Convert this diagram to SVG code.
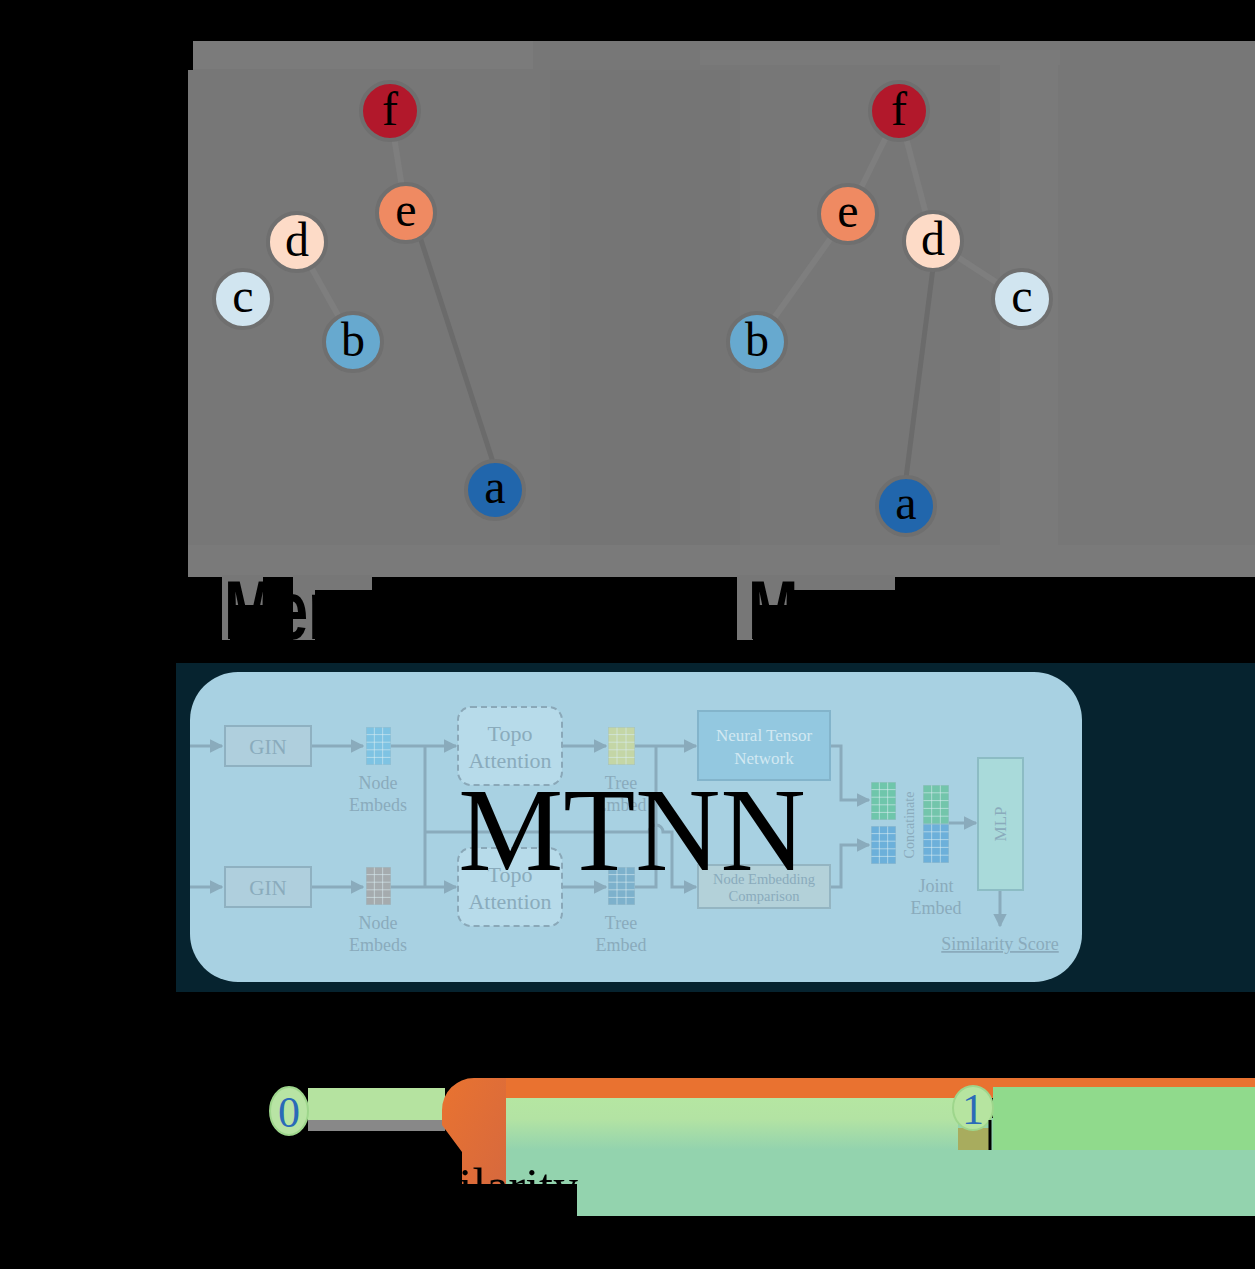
<svg xmlns="http://www.w3.org/2000/svg" width="1255" height="1269" viewBox="0 0 1255 1269">
<defs>
<style>
.nd{stroke:#6f6f6f;stroke-width:4}
.lb{font-family:"Liberation Serif",serif;font-size:48px;fill:#000;text-anchor:middle}
.ge{stroke:#6b6b6b;stroke-width:5;fill:none;stroke-linecap:round}
.gf{stroke:#7e7e7e;stroke-width:6;fill:none}
.pt{font-family:"Liberation Serif",serif;fill:#8aabbc;text-anchor:middle}
.pl{font-family:"Liberation Serif",serif;fill:#d2e8f2;text-anchor:middle}
.ln{stroke:#8aabbc;stroke-width:3;fill:none}
.box{stroke:#8fb1c1;stroke-width:2}
</style>
<marker id="arr" viewBox="0 0 10 10" refX="9" refY="5" markerWidth="4.5" markerHeight="4.5" orient="auto" markerUnits="strokeWidth">
<path d="M0,0 L10,5 L0,10 Z" fill="#8aabbc"/>
</marker>
<symbol id="mat" viewBox="0 0 30 50" preserveAspectRatio="none">
<rect x="0" y="0" width="30" height="50"/>
<path d="M10,0V50M20,0V50M0,10H30M0,20H30M0,30H30M0,40H30" stroke="#d9ecf2" stroke-opacity="0.6" stroke-width="1" vector-effect="non-scaling-stroke"/>
<rect x="0" y="0" width="30" height="50" fill="none" stroke="#9dbfcc" stroke-width="1" vector-effect="non-scaling-stroke"/>
</symbol>
<linearGradient id="lg" x1="0" y1="0" x2="0" y2="1">
<stop offset="0" stop-color="#b5e6a2"/>
<stop offset="0.4" stop-color="#b3e3a3"/>
<stop offset="1" stop-color="#93d3ae"/>
</linearGradient>
<linearGradient id="og" x1="0" y1="0" x2="1" y2="1">
<stop offset="0" stop-color="#e97330"/>
<stop offset="1" stop-color="#d5683f"/>
</linearGradient>
</defs>
<rect width="1255" height="1269" fill="#000"/>

<g id="graph-background">
<path d="M193,41 H1255 V577 H188 V70 H193 Z" fill="#777"/>
<rect x="193" y="41" width="340" height="28" fill="#7b7b7b"/>
<rect x="700" y="50" width="360" height="15" fill="#7a7a7a"/>
<rect x="1000" y="65" width="58" height="480" fill="#7a7a7a"/>
<rect x="188" y="545" width="1067" height="32" fill="#7a7a7a"/>
<rect x="550" y="70" width="190" height="475" fill="#757575"/>
<rect x="222" y="575" width="41" height="30" fill="#777"/>
<rect x="222" y="575" width="8" height="65" fill="#777"/>
<rect x="293" y="575" width="22" height="65" fill="#777"/>
<rect x="295" y="575" width="77" height="15" fill="#777"/>
<rect x="737" y="575" width="56" height="30" fill="#777"/>
<rect x="737" y="575" width="16" height="65" fill="#777"/>
<rect x="793" y="575" width="102" height="15" fill="#777"/>
</g>

<g id="connectors">
<line class="gf" x1="390" y1="111" x2="406" y2="213" stroke="#737373"/>
<line class="gf" x1="297" y1="242" x2="353" y2="342" stroke="#707070"/>
<line class="ge" x1="421" y1="240" x2="493" y2="462"/>
<line class="gf" x1="899" y1="111" x2="848" y2="214"/>
<line class="gf" x1="848" y1="214" x2="757" y2="342"/>
<line class="gf" x1="899" y1="111" x2="933" y2="241" stroke="#7c7c7c"/>
<line class="gf" x1="933" y1="241" x2="1022" y2="299" stroke="#7c7c7c" stroke-width="4"/>
<line class="ge" x1="933" y1="268" x2="906" y2="478"/>
</g>

<g id="left-f"><circle class="nd" cx="390" cy="111" r="29" fill="#b2182b"/><text class="lb" x="390" y="125">f</text></g>
<g id="left-e"><circle class="nd" cx="406" cy="213" r="29" fill="#ef8a62"/><text class="lb" x="406" y="226">e</text></g>
<g id="left-d"><circle class="nd" cx="297" cy="242" r="29" fill="#fddbc7"/><text class="lb" x="297" y="256">d</text></g>
<g id="left-c"><circle class="nd" cx="243" cy="299" r="29" fill="#d1e5f0"/><text class="lb" x="243" y="312">c</text></g>
<g id="left-b"><circle class="nd" cx="353" cy="342" r="29" fill="#67a9cf"/><text class="lb" x="353" y="356">b</text></g>
<g id="left-a"><circle class="nd" cx="495" cy="490" r="29" fill="#2166ac"/><text class="lb" x="495" y="503">a</text></g>

<g id="right-f"><circle class="nd" cx="899" cy="111" r="29" fill="#b2182b"/><text class="lb" x="899" y="125">f</text></g>
<g id="right-e"><circle class="nd" cx="848" cy="214" r="29" fill="#ef8a62"/><text class="lb" x="848" y="227">e</text></g>
<g id="right-d"><circle class="nd" cx="933" cy="241" r="29" fill="#fddbc7"/><text class="lb" x="933" y="255">d</text></g>
<g id="right-c"><circle class="nd" cx="1022" cy="299" r="29" fill="#d1e5f0"/><text class="lb" x="1022" y="312">c</text></g>
<g id="right-b"><circle class="nd" cx="757" cy="342" r="29" fill="#67a9cf"/><text class="lb" x="757" y="356">b</text></g>
<g id="right-a"><circle class="nd" cx="906" cy="506" r="29" fill="#2166ac"/><text class="lb" x="906" y="519">a</text></g>

<g id="titles">
<text transform="translate(224,639) scale(0.72,1)" font-family="Liberation Sans, sans-serif" font-weight="bold" font-size="84" fill="#000">Mer</text>
<text transform="translate(748,639) scale(0.72,1)" font-family="Liberation Sans, sans-serif" font-weight="bold" font-size="84" fill="#000">Me</text>
</g>

<g id="mtnn-panel">
<rect x="176" y="663" width="1079" height="329" fill="#06232f"/>
<rect x="190" y="672" width="892" height="310" rx="48" fill="#a8d1e2"/>
</g>

<g id="panel-connectors">
<path class="ln" d="M190,746 H222" marker-end="url(#arr)"/>
<path class="ln" d="M311,746 H363" marker-end="url(#arr)"/>
<path class="ln" d="M391,746 H456" marker-end="url(#arr)"/>
<path class="ln" d="M425,746 V887"/>
<path class="ln" d="M425,832 H649 A7,7 0 0 1 663,832 H672 V887 H696" marker-end="url(#arr)"/>
<path class="ln" d="M562,746 H606" marker-end="url(#arr)"/>
<path class="ln" d="M635,746 H696" marker-end="url(#arr)"/>
<path class="ln" d="M635,887 H656 V746"/>
<path class="ln" d="M190,887 H222" marker-end="url(#arr)"/>
<path class="ln" d="M311,887 H363" marker-end="url(#arr)"/>
<path class="ln" d="M391,887 H456" marker-end="url(#arr)"/>
<path class="ln" d="M562,887 H606" marker-end="url(#arr)"/>
<path class="ln" d="M830,746 H841 V800 H869" marker-end="url(#arr)"/>
<path class="ln" d="M830,887 H841 V845 H869" marker-end="url(#arr)"/>
<path class="ln" d="M949,823 H976" marker-end="url(#arr)"/>
<path class="ln" d="M1000,890 V926" marker-end="url(#arr)"/>
</g>

<g id="gin1"><rect class="box" x="225" y="726" width="86" height="40" fill="#afcfdd"/><text class="pt" x="268" y="754" font-size="21">GIN</text></g>
<g id="gin2"><rect class="box" x="225" y="867" width="86" height="40" fill="#afcfdd"/><text class="pt" x="268" y="895" font-size="21">GIN</text></g>

<g id="node-embeds1"><use href="#mat" x="366" y="727" width="25" height="38" fill="#7ec3e3"/><text class="pt" font-size="18" x="378" y="789">Node</text><text class="pt" font-size="18" x="378" y="811">Embeds</text></g>
<g id="node-embeds2"><use href="#mat" x="366" y="867" width="25" height="38" fill="#a5abae"/><text class="pt" font-size="18" x="378" y="929">Node</text><text class="pt" font-size="18" x="378" y="951">Embeds</text></g>

<g id="topo1"><rect x="458" y="707" width="104" height="78" rx="13" fill="#b7dbea" stroke="#8aa8b8" stroke-width="2" stroke-dasharray="6,4"/><text class="pt" font-size="22" x="510" y="741">Topo</text><text class="pt" font-size="22" x="510" y="768">Attention</text></g>
<g id="topo2"><rect x="458" y="848" width="104" height="78" rx="13" fill="#b7dbea" stroke="#8aa8b8" stroke-width="2" stroke-dasharray="6,4"/><text class="pt" font-size="22" x="510" y="882">Topo</text><text class="pt" font-size="22" x="510" y="909">Attention</text></g>

<g id="tree-embed1"><use href="#mat" x="608" y="727" width="27" height="38" fill="#c4d6a6"/><text class="pt" font-size="18" x="621" y="789">Tree</text><text class="pt" font-size="18" x="621" y="811">Embed</text></g>
<g id="tree-embed2"><use href="#mat" x="608" y="867" width="27" height="38" fill="#7db1cc"/><text class="pt" font-size="18" x="621" y="929">Tree</text><text class="pt" font-size="18" x="621" y="951">Embed</text></g>

<g id="ntn"><rect x="698" y="711" width="132" height="69" fill="#93c8e0" stroke="#83b4cb" stroke-width="2"/><text class="pl" font-size="17" x="764" y="741">Neural Tensor</text><text class="pl" font-size="17" x="764" y="764">Network</text></g>
<g id="nec"><rect x="698" y="865" width="132" height="43" fill="#b3d1d9" stroke="#94b5c2" stroke-width="2"/><text class="pt" font-size="14.5" x="764" y="884">Node Embedding</text><text class="pt" font-size="14.5" x="764" y="901">Comparison</text></g>

<g id="concat"><use href="#mat" x="871" y="782" width="25" height="38" fill="#6fc6ab"/><use href="#mat" x="871" y="826" width="25" height="38" fill="#6cb0da"/><text class="pt" font-size="14" transform="translate(914,825) rotate(-90)">Concatinate</text></g>
<g id="joint-embed"><use href="#mat" x="923" y="785" width="26" height="39" fill="#73c5ab"/><use href="#mat" x="923" y="824" width="26" height="39" fill="#6db0da"/><text class="pt" font-size="18" x="936" y="892">Joint</text><text class="pt" font-size="18" x="936" y="914">Embed</text></g>
<g id="mlp"><rect x="978" y="758" width="45" height="132" fill="#a9dada" stroke="#8cbcc4" stroke-width="2"/><text class="pt" font-size="17" transform="translate(1006,824) rotate(-90)">MLP</text></g>
<g id="similarity-score"><text class="pt" font-size="18" x="1000" y="950" text-decoration="underline">Similarity Score</text></g>

<g id="mtnn-title"><text x="632" y="870" font-family="Liberation Serif, serif" font-size="118" text-anchor="middle" fill="#000">MTNN</text></g>

<g id="slider">
<rect x="506" y="1118" width="749" height="98" fill="#93d3ae"/>
<rect x="506" y="1098" width="452" height="52" fill="url(#lg)"/>
<polygon points="506,1078 1255,1078 1255,1087 993,1087 993,1098 506,1098" fill="#e97230"/>
<rect x="993" y="1087" width="262" height="63" fill="#90da8c"/>
<rect x="308" y="1088" width="137" height="32" fill="#b5e3a0"/>
<rect x="308" y="1120" width="137" height="11" fill="#888"/>
<path d="M506,1078 H474 A32,32 0 0 0 442,1110 V1125 L462,1152 V1203 H506 Z" fill="url(#og)"/>
<ellipse cx="289" cy="1111" rx="19" ry="24" fill="#b8e4a4" stroke="#9ed68c" stroke-width="2"/>
<text x="289" y="1127" font-family="Liberation Serif, serif" font-size="44" fill="#2a6ab8" text-anchor="middle">0</text>
<rect x="958" y="1128" width="33" height="22" fill="#a8ac5e"/>
<ellipse cx="973" cy="1108" rx="20" ry="22" fill="#b6e4a0" stroke="#9ed68c" stroke-width="2"/>
<line x1="990" y1="1120" x2="990" y2="1150" stroke="#000" stroke-width="3"/>
<text x="973" y="1124" font-family="Liberation Serif, serif" font-size="44" fill="#2a6ab8" text-anchor="middle">1</text>
<rect x="462" y="1184" width="115" height="33" fill="#000"/>
<text x="578" y="1203" font-family="Liberation Serif, serif" font-size="50" fill="#000" text-anchor="end">Similarity</text>
</g>
</svg>
